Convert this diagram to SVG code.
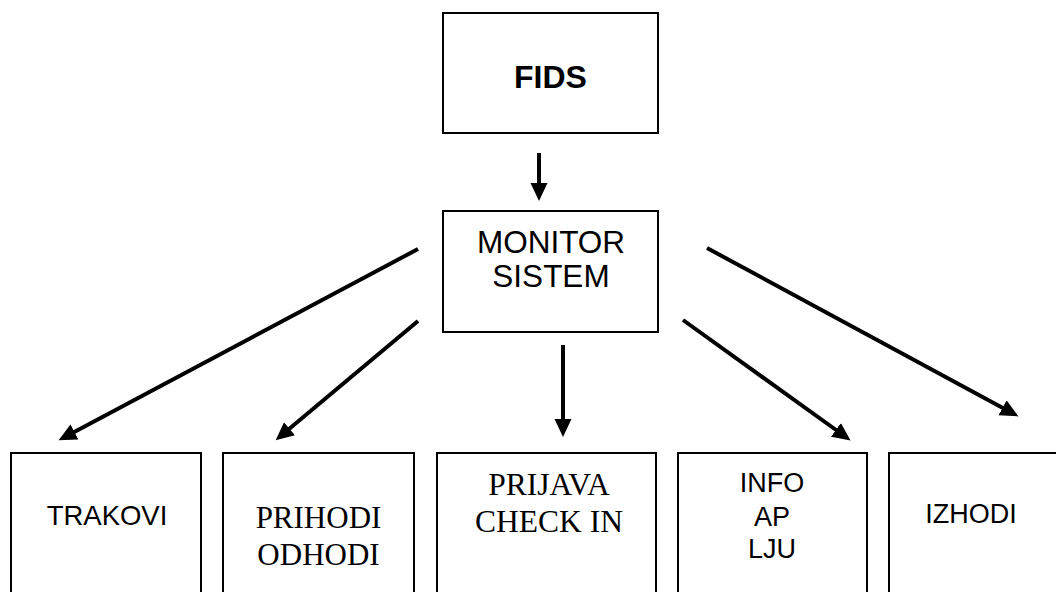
<svg xmlns="http://www.w3.org/2000/svg" width="1056" height="592" viewBox="0 0 1056 592">
  <style>
    .box { fill: #ffffff; stroke: #000000; stroke-width: 2; }
    .sans { font-family: "Liberation Sans", Arial, sans-serif; fill: #000000; text-anchor: middle; }
    .serif { font-family: "Liberation Serif", "Times New Roman", serif; fill: #000000; text-anchor: middle; }
    .arrow { stroke: #000000; stroke-width: 4; fill: none; marker-end: url(#head); }
  </style>
  <defs>
    <marker id="head" markerUnits="userSpaceOnUse" markerWidth="19" markerHeight="18" refX="13" refY="8.5" orient="auto">
      <path d="M0,0 L18,8.5 L0,17 z" fill="#000000"/>
    </marker>
  </defs>
  <rect width="1056" height="592" fill="#ffffff"/>

  <g id="fids">
    <rect class="box" x="443" y="13" width="215" height="120"/>
    <text class="sans" x="550.5" y="88" font-size="32" font-weight="bold">FIDS</text>
  </g>

  <g id="monitor-sistem">
    <rect class="box" x="443" y="211" width="215" height="121"/>
    <text class="sans" x="551" y="253" font-size="31.5">MONITOR</text>
    <text class="sans" x="551" y="287" font-size="31.5">SISTEM</text>
  </g>

  <g id="trakovi">
    <rect class="box" x="11" y="453" width="190" height="150"/>
    <text class="sans" x="107" y="525" font-size="27.5">TRAKOVI</text>
  </g>

  <g id="prihodi-odhodi">
    <rect class="box" x="223" y="453" width="191" height="150"/>
    <text class="serif" x="318.5" y="528" font-size="31">PRIHODI</text>
    <text class="serif" x="318.5" y="565" font-size="31">ODHODI</text>
  </g>

  <g id="prijava-check-in">
    <rect class="box" x="437" y="453" width="219" height="150"/>
    <text class="serif" x="549" y="495" font-size="31.5">PRIJAVA</text>
    <text class="serif" x="549" y="532" font-size="31.5">CHECK IN</text>
  </g>

  <g id="info-ap-lju">
    <rect class="box" x="678" y="453" width="189" height="150"/>
    <text class="sans" x="772" y="492" font-size="27">INFO</text>
    <text class="sans" x="772" y="526" font-size="27">AP</text>
    <text class="sans" x="772" y="558" font-size="27">LJU</text>
  </g>

  <g id="izhodi">
    <rect class="box" x="889" y="453" width="180" height="150"/>
    <text class="sans" x="971" y="523" font-size="27">IZHODI</text>
  </g>

  <g id="connectors">
    <line class="arrow" x1="539" y1="153" x2="539" y2="196"/>
    <line class="arrow" x1="418" y1="249" x2="63" y2="438"/>
    <line class="arrow" x1="418" y1="321" x2="279.5" y2="437"/>
    <line class="arrow" x1="563" y1="345" x2="563" y2="432"/>
    <line class="arrow" x1="683" y1="320" x2="846.5" y2="437.5"/>
    <line class="arrow" x1="707" y1="248" x2="1014" y2="414"/>
  </g>
</svg>
